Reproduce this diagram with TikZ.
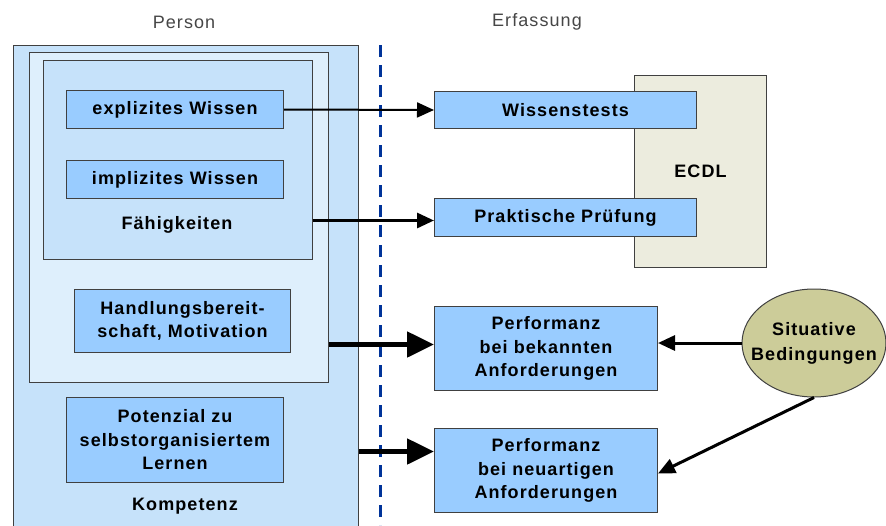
\documentclass[tikz,border=0pt]{standalone}
\usepackage{fontspec}
\setmainfont{Liberation Sans}[LetterSpace=6]
\usetikzlibrary{arrows.meta,shapes.geometric}

\definecolor{kompfill}{RGB}{198,226,250}
\definecolor{midfill}{RGB}{222,239,252}
\definecolor{itemfill}{RGB}{153,204,255}
\definecolor{ecdlfill}{RGB}{236,236,222}
\definecolor{sitfill}{RGB}{204,204,153}
\definecolor{edge}{RGB}{64,64,64}
\definecolor{divider}{RGB}{0,51,153}
\definecolor{headgray}{RGB}{70,70,70}

\tikzset{
  panel/.style={draw=edge, line width=1pt, anchor=north west, inner sep=0pt},
  item/.style={draw=edge, line width=1pt, fill=itemfill, anchor=north west,
    inner sep=0pt, align=center, font=\fontsize{18}{23.5}\selectfont\bfseries},
  caption/.style={font=\fontsize{18}{23.5}\selectfont\bfseries},
  heading/.style={font=\fontsize{18}{22}\selectfont, text=headgray},
  thinarrow/.style={line width=2pt, -{Triangle[length=17pt,width=15pt]}},
  midarrow/.style={line width=3pt, -{Triangle[length=17pt,width=15pt]}},
  thickarrow/.style={line width=5pt, -{Triangle[length=27pt,width=25pt]}},
}

\begin{document}
\begin{tikzpicture}[x=1pt,y=-1pt]
\useasboundingbox (0,0) rectangle (886,525);

% column headings
\node[heading] (hperson) at (184,22) {Person};
\node[heading] (herfass) at (537,22) {Erfassung};

% nested competence panels
\node[panel, fill=kompfill, minimum width=345pt, minimum height=490pt] (komp) at (13,45) {};
\node[panel, fill=midfill, minimum width=299pt, minimum height=330pt] (mid) at (29,52) {};
\node[panel, fill=kompfill, minimum width=269pt, minimum height=199pt] (faeh) at (43,60) {};

\node[item, minimum width=217pt, minimum height=38pt] (expl) at (66,90) {explizites Wissen};
\node[item, minimum width=217pt, minimum height=38pt] (impl) at (66,160) {implizites Wissen};
\node[caption] (tfaeh) at (177,225) {Fähigkeiten};
\node[item, minimum width=216pt, minimum height=63pt] (hand) at (74,289) {Handlungsbereit-\\schaft, Motivation};
\node[item, minimum width=217pt, minimum height=85pt] (pot) at (66,397) {Potenzial zu\\selbstorganisiertem\\Lernen};
\node[caption] (tkomp) at (185,506) {Kompetenz};

% divider between person and assessment
\coordinate (dtop) at (380,45);
\coordinate (dbot) at (380,525);
\draw[divider, line width=3pt, dash pattern=on 12pt off 8pt] (dtop) -- (dbot);

% assessment side
\node[panel, fill=ecdlfill, minimum width=132pt, minimum height=192pt,
      font=\fontsize{18}{22}\selectfont\bfseries] (ecdl) at (634,75) {ECDL};
\node[item, minimum width=262pt, minimum height=37pt] (wiss) at (434,91) {Wissenstests};
\node[item, minimum width=262pt, minimum height=38pt] (prak) at (434,198) {Praktische Prüfung};
\node[item, minimum width=223pt, minimum height=84pt] (perf1) at (434,306) {Performanz\\bei bekannten\\Anforderungen};
\node[item, minimum width=223pt, minimum height=84pt] (perf2) at (434,428) {Performanz\\bei neuartigen\\Anforderungen};

% situational conditions: fixed-size ellipse with its text laid over it
\node[ellipse, draw=edge, line width=1pt, fill=sitfill, minimum width=144pt,
      minimum height=108pt, inner sep=0pt] (sit) at (814,343) {};
\node[align=center, inner sep=0pt,
      font=\fontsize{18}{25}\selectfont\bfseries] (sittext) at (sit.center) {Situative\\Bedingungen};

% connectors
\draw[thinarrow] (expl.east) -- (wiss.west);
\draw[midarrow] ([yshift=-3pt]prak.west -| faeh.east) -- ([yshift=-3pt]prak.west);
\draw[thickarrow] ([yshift=4pt]perf1.west -| mid.east) -- ([yshift=4pt]perf1.west);
\draw[thickarrow] ([yshift=19pt]perf2.west -| komp.east) -- ([yshift=19pt]perf2.west);
\draw[midarrow] (sit.west) -- (sit.west -| perf1.east);
\draw[midarrow] (sit.south) -- ([yshift=-3pt]perf2.east);
\end{tikzpicture}
\end{document}
